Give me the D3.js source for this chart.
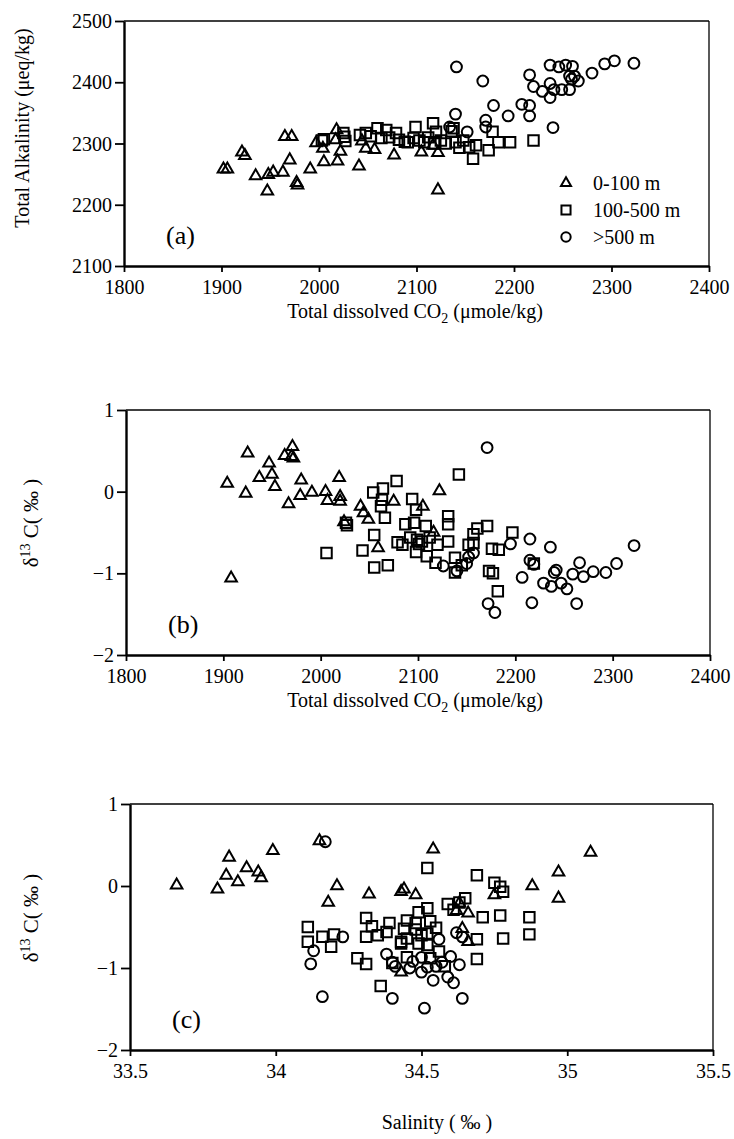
<!DOCTYPE html>
<html><head><meta charset="utf-8">
<script src="https://cdn.jsdelivr.net/npm/d3@7"></script>
<style>
body{margin:0;background:#fff;}
text{font-family:"Liberation Serif","Times New Roman",serif;fill:#000;}
</style></head>
<body><svg id="chart" width="734" height="1139"></svg>
<script>
// ---------- Panel (a): Total dissolved CO2 vs Total Alkalinity ----------
const aShallow = [[1902,2258],[1906,2258],[1921,2286],[1924,2280],[1935,2247],[1947,2222],[1948,2249],[1953,2253],[1963,2253],[1965,2311],[1972,2311],[1970,2273],[1977,2236],[1978,2232],[1991,2258],[1997,2301],[2004,2292],[2005,2270],[2018,2322],[2017,2306],[2019,2271],[2022,2287],[2041,2263],[2044,2304],[2048,2292],[2057,2290],[2077,2281],[2105,2286],[2117,2297],[2122,2285],[2122,2224]];
const aMid = [[2003,2305],[2005,2307],[2025,2317],[2027,2304],[2026,2311],[2042,2314],[2048,2317],[2053,2312],[2060,2325],[2064,2309],[2069,2322],[2072,2310],[2079,2317],[2082,2306],[2088,2303],[2091,2302],[2097,2309],[2099,2327],[2103,2305],[2108,2302],[2112,2310],[2117,2333],[2118,2300],[2120,2319],[2125,2305],[2130,2300],[2136,2320],[2138,2325],[2140,2302],[2144,2293],[2148,2305],[2154,2294],[2158,2275],[2161,2297],[2174,2289],[2178,2319],[2184,2302],[2196,2302],[2220,2305]];
const aDeep = [[2134,2327],[2140,2348],[2141,2425],[2152,2319],[2168,2402],[2171,2338],[2171,2327],[2179,2362],[2194,2345],[2208,2364],[2216,2362],[2216,2345],[2216,2412],[2220,2393],[2229,2385],[2237,2428],[2237,2398],[2237,2375],[2241,2388],[2240,2326],[2246,2425],[2253,2428],[2249,2388],[2257,2388],[2260,2426],[2257,2410],[2262,2410],[2259,2405],[2266,2402],[2280,2415],[2293,2430],[2303,2435],[2323,2431]];

// ---------- Panel (b): Total dissolved CO2 vs d13C ----------
const bShallow = [[1904,0.10],[1908,-1.06],[1923,-0.02],[1925,0.47],[1937,0.17],[1947,0.35],[1950,0.21],[1953,0.06],[1963,0.44],[1967,-0.15],[1971,0.55],[1970,0.43],[1972,0.41],[1980,0.14],[1979,-0.05],[1991,-0.01],[2005,0.0],[2007,-0.11],[2019,0.17],[2020,-0.06],[2020,-0.12],[2024,-0.37],[2041,-0.18],[2044,-0.26],[2049,-0.34],[2059,-0.69],[2075,-0.12],[2105,-0.18],[2116,-0.50],[2122,0.01]];
const bMid = [[2006,-0.75],[2026,-0.38],[2027,-0.41],[2043,-0.72],[2055,-0.93],[2069,-0.90],[2055,-0.53],[2054,-0.01],[2064,0.04],[2078,0.13],[2062,-0.18],[2063,-0.10],[2066,-0.32],[2079,-0.62],[2084,-0.65],[2094,-0.09],[2098,-0.22],[2087,-0.40],[2096,-0.38],[2108,-0.42],[2099,-0.59],[2104,-0.61],[2098,-0.74],[2109,-0.79],[2118,-0.87],[2120,-0.65],[2131,-0.30],[2131,-0.40],[2131,-0.61],[2138,-0.81],[2138,-0.99],[2145,-0.90],[2142,0.21],[2152,-0.65],[2157,-0.63],[2157,-0.52],[2161,-0.45],[2171,-0.42],[2176,-0.70],[2183,-0.71],[2197,-0.50],[2173,-0.97],[2177,-1.00],[2182,-1.22],[2219,-0.88],[2101,-0.64],[2092,-0.56],[2112,-0.56]];
const bDeep = [[2171,0.54],[2126,-0.91],[2140,-0.97],[2150,-0.88],[2152,-0.80],[2157,-0.75],[2195,-0.64],[2215,-0.58],[2236,-0.68],[2215,-0.84],[2219,-0.89],[2207,-1.05],[2229,-1.12],[2237,-1.16],[2240,-0.99],[2242,-0.96],[2247,-1.12],[2253,-1.19],[2259,-1.01],[2266,-0.87],[2270,-1.04],[2280,-0.98],[2293,-0.99],[2304,-0.88],[2322,-0.66],[2172,-1.37],[2179,-1.48],[2217,-1.36],[2263,-1.37]];

// ---------- Panel (c): Salinity vs d13C ----------
const cShallow = [[33.66,0.01],[33.80,-0.04],[33.83,0.13],[33.84,0.35],[33.87,0.05],[33.90,0.22],[33.94,0.17],[33.95,0.10],[33.99,0.43],[34.15,0.55],[34.18,-0.20],[34.21,0.0],[34.32,-0.10],[34.43,-0.07],[34.44,-0.04],[34.48,-0.11],[34.54,0.45],[34.63,-0.21],[34.64,-0.52],[34.66,-0.33],[34.66,-0.68],[34.75,-0.11],[34.88,0.0],[34.97,0.17],[34.97,-0.15],[35.08,0.41],[34.43,-1.05],[34.62,-0.30]];
const cMid = [[34.11,-0.50],[34.11,-0.68],[34.16,-0.62],[34.20,-0.59],[34.19,-0.74],[34.28,-0.88],[34.31,-0.95],[34.31,-0.39],[34.31,-0.62],[34.33,-0.49],[34.35,-0.60],[34.39,-0.45],[34.38,-0.56],[34.36,-1.22],[34.44,-0.52],[34.43,-0.68],[34.45,-0.42],[34.52,0.22],[34.69,0.13],[34.75,0.04],[34.77,-0.01],[34.78,-0.07],[34.59,-0.22],[34.61,-0.29],[34.65,-0.15],[34.63,-0.20],[34.71,-0.38],[34.77,-0.36],[34.87,-0.38],[34.78,-0.64],[34.87,-0.59],[34.69,-0.65],[34.69,-0.89],[34.52,-0.27],[34.49,-0.32],[34.53,-0.43],[34.55,-0.51],[34.52,-0.58],[34.48,-0.53],[34.45,-0.64],[34.43,-0.70],[34.49,-0.70],[34.52,-0.72],[34.56,-0.80],[34.45,-0.87],[34.53,-0.88],[34.58,-0.98],[34.40,-0.94],[34.48,-0.45],[34.50,-0.60]];
const cDeep = [[34.17,0.54],[34.13,-0.79],[34.12,-0.95],[34.16,-1.35],[34.23,-0.62],[34.38,-0.83],[34.40,-0.93],[34.41,-0.98],[34.46,-1.00],[34.50,-1.05],[34.52,-0.99],[34.54,-1.15],[34.50,-0.87],[34.56,-0.65],[34.60,-0.86],[34.63,-0.96],[34.59,-1.11],[34.61,-1.18],[34.62,-0.57],[34.64,-0.62],[34.40,-1.37],[34.51,-1.49],[34.64,-1.37],[34.57,-0.93],[34.47,-0.92],[34.55,-0.98]];

const co2Ticks = [1800,1900,2000,2100,2200,2300,2400];
const alkTicks = [2100,2200,2300,2400,2500];
const d13Ticks = [-2,-1,0,1];
const salTicks = [33.5,34,34.5,35,35.5];
const legendLabels = ["0-100 m","100-500 m",">500 m"];

const svg = d3.select("#chart");
const shapes = [d3.symbolTriangle, d3.symbolSquare, d3.symbolCircle];
const sizes = [58, 110, 92];

function panel(o){
  const g = svg.append("g");
  const x = d3.scaleLinear().domain(o.xd).range([o.l, o.r]);
  const y = d3.scaleLinear().domain(o.yd).range([o.b, o.t]);
  g.append("line").attr("x1",o.l).attr("x2",o.r).attr("y1",o.t).attr("y2",o.t).attr("stroke","#000").attr("stroke-width",1.3);
  g.append("line").attr("x1",o.r).attr("x2",o.r).attr("y1",o.t).attr("y2",o.b).attr("stroke","#000").attr("stroke-width",1.3);
  const xa = g.append("g").attr("transform",`translate(0,${o.b})`)
    .call(d3.axisBottom(x).tickValues(o.xt).tickFormat(o.xf||d3.format("d")).tickSizeInner(6).tickSizeOuter(0).tickPadding(7));
  const ya = g.append("g").attr("transform",`translate(${o.l},0)`)
    .call(d3.axisLeft(y).tickValues(o.yt).tickFormat(o.yf||d3.format("d")).tickSizeInner(9).tickSizeOuter(0).tickPadding(3));
  [xa,ya].forEach(a=>{
    a.select(".domain").attr("stroke-width",2.4);
    a.selectAll(".tick line").attr("stroke-width",1.8);
    a.selectAll("text").style("font-family","'Liberation Serif',serif").style("font-size","20px").attr("fill","#000");
  });
  ya.selectAll("text").attr("dy","0.33em");
  xa.selectAll("text").attr("dy","0.75em");
  o.series.forEach((s,i)=>{
    const sym = d3.symbol().type(shapes[i]).size(sizes[i]);
    g.append("g").selectAll("path").data(s).join("path")
      .attr("d",sym)
      .attr("transform",d=>`translate(${x(d[0])},${y(d[1])})`)
      .attr("fill","none").attr("stroke","#000").attr("stroke-width",2);
  });
  g.append("text").attr("x",o.l+42).attr("y",o.b-22).style("font-size","26px").text(o.tag);
  return {g,x,y};
}

panel({l:124,r:709,t:21,b:266,xd:[1800,2400],yd:[2100,2500],xt:co2Ticks,yt:alkTicks,series:[aShallow,aMid,aDeep],tag:"(a)"});
panel({l:126,r:710,t:410,b:655,xd:[1800,2400],yd:[-2,1],xt:co2Ticks,yt:d13Ticks,series:[bShallow,bMid,bDeep],tag:"(b)"});
panel({l:130,r:713,t:804,b:1050,xd:[33.5,35.5],yd:[-2,1],xt:salTicks,yt:d13Ticks,xf:d3.format("~g"),series:[cShallow,cMid,cDeep],tag:"(c)"});

// legend in panel (a)
const lg = svg.append("g");
legendLabels.forEach((t,i)=>{
  const cy = 183 + i*27;
  lg.append("path").attr("d",d3.symbol().type(shapes[i]).size(sizes[i]*0.75)())
    .attr("transform",`translate(566,${cy})`).attr("fill","none").attr("stroke","#000").attr("stroke-width",2);
  lg.append("text").attr("x",593).attr("y",cy+7).style("font-size","20px").text(t);
});

// axis titles
function co2Title(cx, by){
  const t = svg.append("text").attr("x",cx).attr("y",by).attr("text-anchor","middle").style("font-size","20px");
  t.append("tspan").text("Total dissolved CO");
  t.append("tspan").attr("dy",5).style("font-size","14px").text("2");
  t.append("tspan").attr("dy",-5).text(" (\u03bcmole/kg)");
}
co2Title(415, 318);
co2Title(415, 707);

svg.append("text").attr("transform","translate(29,128) rotate(-90)").attr("text-anchor","middle")
  .style("font-size","20px").text("Total Alkalinity (\u03bceq/kg)");

function d13Title(cy){
  const t = svg.append("text").attr("transform",`translate(38,${cy}) rotate(-90)`).attr("text-anchor","middle").style("font-size","21px");
  t.append("tspan").text("\u03b4");
  t.append("tspan").attr("dy",-8).style("font-size","14px").text("13");
  t.append("tspan").attr("dy",8).text(" C( \u2030 )");
}
d13Title(523);
d13Title(918);

svg.append("text").attr("x",437).attr("y",1129).attr("text-anchor","middle").style("font-size","20px").text("Salinity ( \u2030 )");
</script></body></html>
